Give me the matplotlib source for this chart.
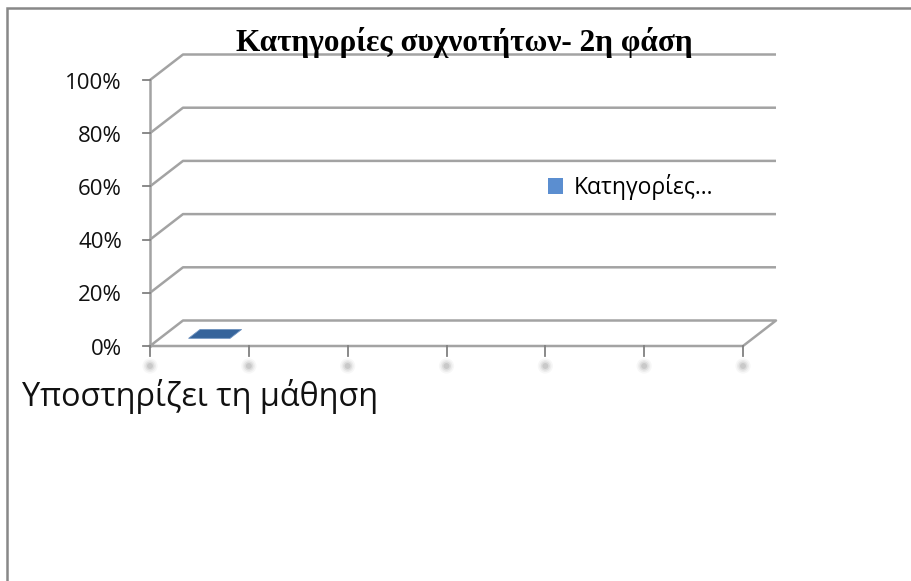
import numpy as np
import matplotlib
matplotlib.use("Agg")
from matplotlib import pyplot as plt
from matplotlib.patches import Polygon, Rectangle, Patch

title = "Κατηγορίες συχνοτήτων- 2η φάση"
category_labels = ["Υποστηρίζει τη μάθηση"]
n_slots = 6
values = [0]
series_name = "Κατηγορίες…"
yticks = [0, 20, 40, 60, 80, 100]
ytick_labels = ["0%", "20%", "40%", "60%", "80%", "100%"]

W, H = 912, 581
fig = plt.figure(figsize=(W / 100, H / 100), dpi=100)
fig.patch.set_facecolor("white")

# front plane of the 3d box
ax = fig.add_axes([150 / W, 1 - 346 / H, (743 - 150) / W, (346 - 80) / H])
ax.set_xlim(0, n_slots)
ax.set_ylim(0, 100)
ax.axis("off")

grid_c = "#a3a3a3"
lw = 1.8
# depth offset (oblique projection) in data units
dx = 33 / ((743 - 150) / n_slots)
dy = 25.5 / ((346 - 80) / 100)

for v in yticks[1:]:
    ax.plot([0, dx, n_slots + dx], [v, v + dy, v + dy], color=grid_c, lw=lw,
            clip_on=False, solid_capstyle="butt")

# floor
ax.plot([0, dx, n_slots + dx, n_slots, 0], [0, dy, dy, 0, 0], color=grid_c,
        lw=lw, clip_on=False)
# vertical axis
ax.plot([0, 0], [0, 100], color=grid_c, lw=lw, clip_on=False)
for v, lab in zip(yticks, ytick_labels):
    ax.plot([-7 / 98.8, 0], [v, v], color="#808080", lw=1.3, clip_on=False)
    ax.text(-28 / 98.8, v - 1.2, lab, ha="right", va="center",
            fontsize=16, family="Open Sans", color="#111111")

# category ticks + soft shadows
for i in range(n_slots + 1):
    ax.plot([i, i], [0, -10 / 2.66], color="#808080", lw=1.3, clip_on=False)
    for s, a in [(120, 0.07), (75, 0.1), (42, 0.16), (18, 0.25)]:
        ax.scatter([i], [-20 / 2.66], s=s, color="#8f8f8f", alpha=a,
                   edgecolors="none", clip_on=False)

# bars (flat because value is 0)
w = 0.42
d0, d1 = 0.3, 0.65
for i, val in enumerate(values):
    x0 = i + 0.5 - w / 2
    x1 = i + 0.5 + w / 2
    top = [(x0 + d0 * dx, val + d0 * dy), (x1 + d0 * dx, val + d0 * dy),
           (x1 + d1 * dx, val + d1 * dy), (x0 + d1 * dx, val + d1 * dy)]
    if val > 0:
        front = [(x0 + d0 * dx, d0 * dy), (x1 + d0 * dx, d0 * dy),
                 (x1 + d0 * dx, val + d0 * dy), (x0 + d0 * dx, val + d0 * dy)]
        ax.add_patch(Polygon(front, closed=True, fc="#4f81bd", ec="none", clip_on=False))
    ax.add_patch(Polygon(top, closed=True, fc="#36649b", ec="#6f93c0", lw=0.6,
                         clip_on=False))

# category label
fig.text(22 / W, 1 - 396 / H, category_labels[0], ha="left", va="center",
         fontsize=23.3, family="Open Sans", color="#111111")

# title
fig.text(464 / W, 1 - 43 / H, title, ha="center", va="center", fontsize=22.5,
         family="Liberation Serif", weight="bold", color="black")

# legend
fig.legend(handles=[Patch(fc="#5b8ed0", ec="none", label=series_name)],
           loc="center left", bbox_to_anchor=(527 / W, 1 - 187 / H),
           frameon=False, handlelength=0.68, handleheight=0.68,
           handletextpad=0.45, prop={"family": "Open Sans", "size": 16.5})

# outer border (only top and left visible)
fig.add_artist(Rectangle((7.5 / W, -0.1), 1.2, 1.1 - 7.5 / H, transform=fig.transFigure,
                         fill=False, ec="#888888", lw=1.8))

fig.savefig("out.png", dpi=100)
